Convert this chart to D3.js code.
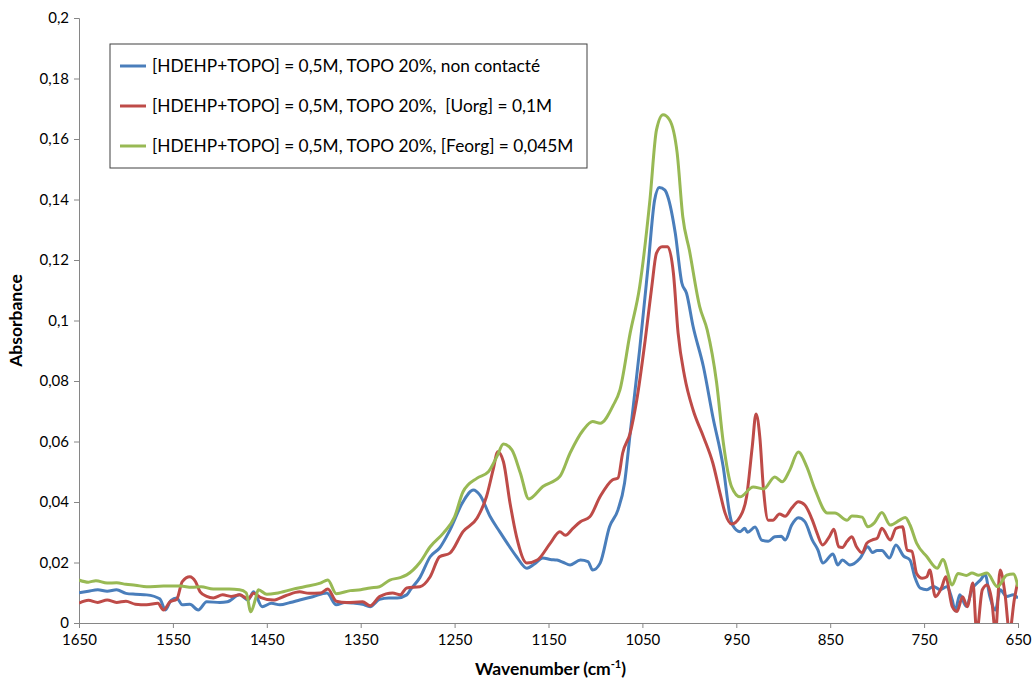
<!DOCTYPE html>
<html>
<head>
<meta charset="utf-8">
<script src="https://cdn.jsdelivr.net/npm/d3@7"></script>
<style>
  body { margin: 0; background: #fff; }
  svg text { font-family: Lato, "Open Sans", sans-serif; fill: #000; }
</style>
</head>
<body>
<svg id="chart" width="1033" height="679"></svg>
<script>
// ---- data ----
var seriesNames = [
  "[HDEHP+TOPO] = 0,5M, TOPO 20%, non contacté",
  "[HDEHP+TOPO] = 0,5M, TOPO 20%,  [Uorg] = 0,1M",
  "[HDEHP+TOPO] = 0,5M, TOPO 20%, [Feorg] = 0,045M"
];
var seriesColors = ["#4A7EBB", "#BE4B48", "#98B954"];

var xTicks = [1650, 1550, 1450, 1350, 1250, 1150, 1050, 950, 850, 750, 650];
var yTicks = [0, 0.02, 0.04, 0.06, 0.08, 0.1, 0.12, 0.14, 0.16, 0.18, 0.2];

var wnBlue = [1650,1640,1630,1620,1610,1600,1590,1578,1564,1558,1552,1546,1540,1532,1523,1514,1500,1492,1479,1470,1464,1455,1445,1436,1425,1415,1401,1386,1376,1367,1358,1348,1340,1330,1320,1311,1301,1297,1287,1276,1266,1255,1241,1230,1223,1212,1202,1194,1184,1173,1165,1156,1148,1141,1134,1127,1116,1108,1103,1095,1085,1076,1069,1063,1053,1044,1037,1032,1026,1023,1015,1008,1003,996,985,975,964,957,954,946,941,938,930,923,916,909,902,898,891,884,877,869,863,858,847,842,837,829,818,810,805,800,795,787,780,772,765,760,754,747,740,733,726,720,717,712,705,699,690,685,680,674,669,662,655,650];
var absBlue = [0.0100,0.0105,0.0110,0.0105,0.0110,0.0098,0.0095,0.0093,0.0080,0.0043,0.0075,0.0083,0.0060,0.0062,0.0043,0.0070,0.0068,0.0070,0.0093,0.0076,0.0103,0.0054,0.0065,0.0060,0.0068,0.0076,0.0087,0.0099,0.0060,0.0068,0.0066,0.0062,0.0054,0.0078,0.0083,0.0083,0.0093,0.0110,0.0150,0.0219,0.0248,0.0307,0.0401,0.0440,0.0423,0.0351,0.0302,0.0264,0.0219,0.0181,0.0195,0.0215,0.0210,0.0208,0.0200,0.0192,0.0208,0.0203,0.0175,0.0198,0.0318,0.0374,0.0463,0.0628,0.0902,0.1178,0.1398,0.1440,0.1431,0.1410,0.1289,0.1124,0.1090,0.0980,0.0847,0.0682,0.0517,0.0360,0.0324,0.0302,0.0313,0.0300,0.0317,0.0274,0.0270,0.0285,0.0287,0.0274,0.0324,0.0348,0.0335,0.0274,0.0241,0.0198,0.0228,0.0192,0.0208,0.0192,0.0215,0.0252,0.0233,0.0240,0.0240,0.0215,0.0258,0.0222,0.0208,0.0153,0.0115,0.0110,0.0121,0.0110,0.0120,0.0076,0.0040,0.0093,0.0055,0.0110,0.0142,0.0160,0.0088,0.0043,0.0110,0.0088,0.0093,0.0082];

var wnRed = [1650,1640,1630,1620,1610,1600,1590,1578,1566,1560,1553,1546,1540,1532,1526,1521,1514,1507,1497,1488,1479,1470,1464,1457,1443,1430,1415,1405,1393,1385,1376,1365,1348,1340,1330,1316,1308,1301,1287,1276,1266,1255,1241,1226,1216,1209,1204,1198,1191,1184,1173,1162,1148,1138,1132,1124,1116,1106,1095,1082,1076,1071,1063,1056,1047,1040,1035,1029,1023,1017,1012,1005,996,985,975,967,962,955,946,939,933,929,925,921,916,911,904,898,891,884,877,869,864,858,851,846,841,837,832,827,822,816,811,805,800,795,786,780,773,768,763,758,752,747,744,738,731,727,720,715,709,704,698,694,688,683,678,674,669,664,659,654,650];
var absRed = [0.0066,0.0075,0.0068,0.0076,0.0068,0.0072,0.0062,0.0060,0.0065,0.0043,0.0070,0.0078,0.0137,0.0153,0.0137,0.0103,0.0088,0.0083,0.0093,0.0088,0.0093,0.0080,0.0098,0.0085,0.0076,0.0090,0.0103,0.0098,0.0099,0.0112,0.0072,0.0068,0.0070,0.0057,0.0087,0.0099,0.0093,0.0116,0.0120,0.0153,0.0219,0.0231,0.0302,0.0347,0.0418,0.0506,0.0566,0.0533,0.0397,0.0285,0.0198,0.0208,0.0264,0.0302,0.0290,0.0313,0.0335,0.0351,0.0418,0.0473,0.0479,0.0562,0.0628,0.0737,0.0936,0.1112,0.1223,0.1244,0.1244,0.1157,0.0959,0.0814,0.0704,0.0616,0.0529,0.0425,0.0364,0.0327,0.0351,0.0418,0.0583,0.0691,0.0616,0.0440,0.0340,0.0340,0.0360,0.0353,0.0380,0.0401,0.0390,0.0340,0.0297,0.0258,0.0285,0.0310,0.0252,0.0250,0.0270,0.0285,0.0252,0.0232,0.0264,0.0275,0.0280,0.0313,0.0274,0.0313,0.0318,0.0241,0.0237,0.0164,0.0148,0.0153,0.0175,0.0087,0.0120,0.0153,0.0054,0.0038,0.0087,0.0054,0.0132,-0.0030,0.0110,0.0126,0.0076,-0.0030,0.0175,0.0100,-0.0030,0.0076,0.0140];

var wnGreen = [1650,1640,1632,1620,1610,1600,1590,1578,1560,1542,1530,1520,1507,1490,1479,1472,1467,1462,1459,1450,1440,1422,1410,1393,1385,1376,1361,1350,1340,1330,1319,1308,1301,1287,1276,1262,1250,1241,1226,1214,1205,1198,1189,1180,1171,1156,1138,1127,1113,1103,1095,1081,1074,1063,1053,1042,1035,1028,1021,1013,1007,1000,989,981,971,964,955,946,932,921,909,901,893,884,875,866,853,845,832,827,816,810,803,795,786,776,770,765,758,747,736,730,720,714,705,699,692,683,672,662,655,650];
var absGreen = [0.0142,0.0135,0.0140,0.0132,0.0133,0.0128,0.0125,0.0120,0.0122,0.0122,0.0118,0.0120,0.0112,0.0112,0.0110,0.0100,0.0037,0.0080,0.0110,0.0095,0.0098,0.0112,0.0120,0.0132,0.0142,0.0097,0.0107,0.0110,0.0116,0.0120,0.0142,0.0150,0.0159,0.0200,0.0252,0.0297,0.0351,0.0434,0.0479,0.0500,0.0550,0.0592,0.0572,0.0496,0.0410,0.0451,0.0484,0.0562,0.0638,0.0666,0.0660,0.0720,0.0770,0.0959,0.1110,0.1398,0.1630,0.1680,0.1663,0.1554,0.1343,0.1233,0.1046,0.0969,0.0795,0.0600,0.0450,0.0417,0.0450,0.0443,0.0483,0.0467,0.0506,0.0565,0.0517,0.0440,0.0364,0.0364,0.0340,0.0354,0.0350,0.0318,0.0331,0.0365,0.0324,0.0340,0.0349,0.0324,0.0264,0.0219,0.0181,0.0210,0.0126,0.0164,0.0157,0.0165,0.0158,0.0165,0.0120,0.0158,0.0162,0.0120];

var seriesWn  = [wnBlue, wnRed, wnGreen];
var seriesAbs = [absBlue, absRed, absGreen];

// ---- layout ----
var svg = d3.select("#chart");
var plotLeft = 79, plotRight = 1018, plotTop = 18, plotBottom = 623;

var x = d3.scaleLinear().domain([1650, 650]).range([plotLeft, plotRight]);
var y = d3.scaleLinear().domain([0, 0.2]).range([plotBottom, plotTop]);

var fmt = v => String(+v.toFixed(2)).replace(".", ",");

svg.append("defs").append("clipPath").attr("id", "plotClip")
   .append("rect")
   .attr("x", plotLeft).attr("y", plotTop - 2)
   .attr("width", plotRight - plotLeft).attr("height", plotBottom - plotTop + 2);

// y axis
var yAxis = svg.append("g")
   .attr("transform", "translate(" + plotLeft + ",0)")
   .call(d3.axisLeft(y).tickValues(yTicks).tickFormat(fmt).tickSize(5).tickPadding(5));

// x axis
var xAxis = svg.append("g")
   .attr("transform", "translate(0," + plotBottom + ")")
   .call(d3.axisBottom(x).tickValues(xTicks).tickFormat(d3.format("d")).tickSize(5).tickPadding(6));

[yAxis, xAxis].forEach(g => {
    g.select(".domain").attr("stroke", "#868686");
    g.selectAll(".tick line").attr("stroke", "#868686");
    g.selectAll("text").style("font-size", "15px").style("font-family", "Lato, sans-serif").attr("fill", "#000");
});

// curves
var line = d3.line()
             .x(d => x(d[0]))
             .y(d => y(d[1]))
             .curve(d3.curveMonotoneX);

var plot = svg.append("g").attr("clip-path", "url(#plotClip)");

seriesNames.forEach((name, i) => {
    var pts = seriesWn[i].map((w, k) => [w, seriesAbs[i][k]]);
    plot.append("path")
        .datum(pts)
        .attr("fill", "none")
        .attr("stroke", seriesColors[i])
        .attr("stroke-width", 3)
        .attr("stroke-linejoin", "round")
        .attr("d", line);
});

// axis titles
svg.append("text")
   .attr("transform", "translate(22," + ((plotTop + plotBottom) / 2) + ") rotate(-90)")
   .attr("text-anchor", "middle")
   .style("font-size", "17.5px")
   .style("font-weight", "bold")
   .text("Absorbance");

var xt = svg.append("text")
   .attr("x", (plotLeft + plotRight) / 2 + 2)
   .attr("y", 675)
   .attr("text-anchor", "middle")
   .style("font-size", "17.5px")
   .style("font-weight", "bold");
xt.append("tspan").text("Wavenumber (cm");
xt.append("tspan").attr("dy", -7).style("font-size", "11px").text("-1");
xt.append("tspan").attr("dy", 7).text(")");

// legend
var legend = svg.append("g");
legend.append("rect")
      .attr("x", 110).attr("y", 44)
      .attr("width", 477).attr("height", 124)
      .attr("fill", "#fff")
      .attr("stroke", "#404040")
      .attr("stroke-width", 1);

seriesNames.forEach((name, i) => {
    var cy = 66 + i * 40;
    legend.append("line")
          .attr("x1", 120).attr("x2", 146)
          .attr("y1", cy).attr("y2", cy)
          .attr("stroke", seriesColors[i])
          .attr("stroke-width", 3);
    legend.append("text")
          .attr("x", 152).attr("y", cy + 6)
          .style("font-size", "17.3px")
          .style("white-space", "pre")
          .text(name);
});
</script>
</body>
</html>
